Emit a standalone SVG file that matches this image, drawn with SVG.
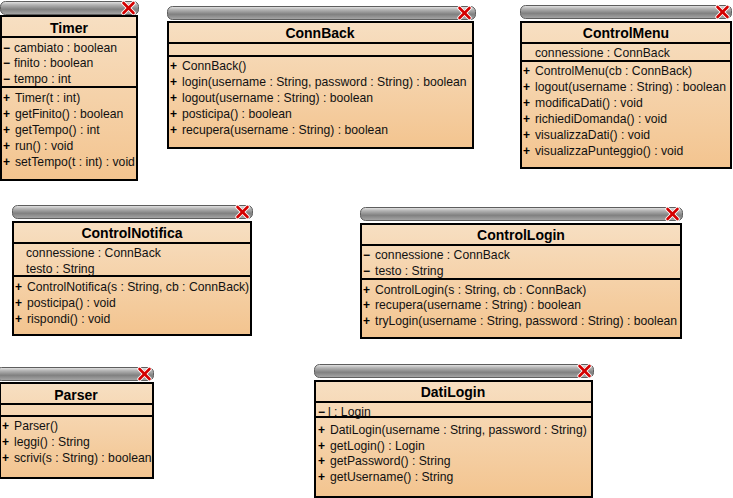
<svg xmlns="http://www.w3.org/2000/svg" width="733" height="498" viewBox="0 0 733 498">
<defs>
<linearGradient id="body" x1="0" y1="0" x2="0" y2="1">
<stop offset="0" stop-color="#f7dfc2"/>
<stop offset="1" stop-color="#f3c48f"/>
</linearGradient>
<linearGradient id="bar" x1="0" y1="0" x2="0" y2="1">
<stop offset="0" stop-color="#e8e8e8"/>
<stop offset="0.25" stop-color="#b4b4b4"/>
<stop offset="0.6" stop-color="#808080"/>
<stop offset="1" stop-color="#a8a8a8"/>
</linearGradient>
</defs>
<style>
.box{fill:url(#body);stroke:#000;stroke-width:2}
.sep{stroke:#000;stroke-width:2}
.bar{fill:url(#bar);stroke:#5e5e5e;stroke-width:1}
.xw{stroke:#ffffff;stroke-width:4.5;stroke-linecap:round}
.xr{stroke:#d40000;stroke-width:2.6;stroke-linecap:round}
text{font-family:"Liberation Sans",Arial,sans-serif;font-size:12.2px;fill:#111}
.t{font-size:14px;font-weight:bold;text-anchor:middle;fill:#000}
.v{font-weight:bold;font-size:12px;fill:#000}
</style>
<rect width="733" height="498" fill="#ffffff"/>
<g id="connectors"/>

<g id="Timer">
<rect class="bar" x="0.5" y="1.5" width="138" height="13" rx="5"/>
<line class="xw" x1="123.5" y1="3" x2="133.5" y2="13"/><line class="xw" x1="133.5" y1="3" x2="123.5" y2="13"/>
<line class="xr" x1="123.5" y1="3" x2="133.5" y2="13"/><line class="xr" x1="133.5" y1="3" x2="123.5" y2="13"/>
<rect class="box" x="1" y="16" width="136" height="164"/>
<line class="sep" x1="1" y1="37" x2="137" y2="37"/>
<line class="sep" x1="1" y1="87" x2="137" y2="87"/>
<text class="t" x="69" y="33">Timer</text>
<text class="v" x="3" y="52">−</text><text x="14" y="52">cambiato : boolean</text>
<text class="v" x="3" y="67">−</text><text x="14" y="67">finito : boolean</text>
<text class="v" x="3" y="83">−</text><text x="14" y="83">tempo : int</text>
<text class="v" x="3" y="102">+</text><text x="15" y="102">Timer(t : int)</text>
<text class="v" x="3" y="118">+</text><text x="15" y="118">getFinito() : boolean</text>
<text class="v" x="3" y="134">+</text><text x="15" y="134">getTempo() : int</text>
<text class="v" x="3" y="150">+</text><text x="15" y="150">run() : void</text>
<text class="v" x="3" y="166">+</text><text x="15" y="166">setTempo(t : int) : void</text>
</g>

<g id="ConnBack">
<rect class="bar" x="167.5" y="6.5" width="308" height="13" rx="5"/>
<line class="xw" x1="459.5" y1="8" x2="469.5" y2="18"/><line class="xw" x1="469.5" y1="8" x2="459.5" y2="18"/>
<line class="xr" x1="459.5" y1="8" x2="469.5" y2="18"/><line class="xr" x1="469.5" y1="8" x2="459.5" y2="18"/>
<rect class="box" x="168" y="22" width="305" height="126"/>
<line class="sep" x1="168" y1="43" x2="473" y2="43"/>
<line class="sep" x1="168" y1="56" x2="473" y2="56"/>
<text class="t" x="320" y="38">ConnBack</text>
<text class="v" x="170" y="70">+</text><text x="182" y="70">ConnBack()</text>
<text class="v" x="170" y="86">+</text><text x="182" y="86">login(username : String, password : String) : boolean</text>
<text class="v" x="170" y="102">+</text><text x="182" y="102">logout(username : String) : boolean</text>
<text class="v" x="170" y="118">+</text><text x="182" y="118">posticipa() : boolean</text>
<text class="v" x="170" y="134">+</text><text x="182" y="134">recupera(username : String) : boolean</text>
</g>

<g id="ControlMenu">
<rect class="bar" x="520.5" y="5.5" width="211" height="13" rx="5"/>
<line class="xw" x1="717.5" y1="7" x2="727.5" y2="17"/><line class="xw" x1="727.5" y1="7" x2="717.5" y2="17"/>
<line class="xr" x1="717.5" y1="7" x2="727.5" y2="17"/><line class="xr" x1="727.5" y1="7" x2="717.5" y2="17"/>
<rect class="box" x="521" y="22" width="210" height="146"/>
<line class="sep" x1="521" y1="43" x2="731" y2="43"/>
<line class="sep" x1="521" y1="61" x2="731" y2="61"/>
<text class="t" x="626" y="38">ControlMenu</text>
<text x="535" y="57">connessione : ConnBack</text>
<text class="v" x="523" y="75">+</text><text x="535" y="75">ControlMenu(cb : ConnBack)</text>
<text class="v" x="523" y="91">+</text><text x="535" y="91">logout(username : String) : boolean</text>
<text class="v" x="523" y="107">+</text><text x="535" y="107">modificaDati() : void</text>
<text class="v" x="523" y="123">+</text><text x="535" y="123">richiediDomanda() : void</text>
<text class="v" x="523" y="139">+</text><text x="535" y="139">visualizzaDati() : void</text>
<text class="v" x="523" y="155">+</text><text x="535" y="155">visualizzaPunteggio() : void</text>
</g>

<g id="ControlNotifica">
<rect class="bar" x="12.5" y="205.5" width="240" height="13" rx="5"/>
<line class="xw" x1="237.5" y1="207" x2="247.5" y2="217"/><line class="xw" x1="247.5" y1="207" x2="237.5" y2="217"/>
<line class="xr" x1="237.5" y1="207" x2="247.5" y2="217"/><line class="xr" x1="247.5" y1="207" x2="237.5" y2="217"/>
<rect class="box" x="13" y="222" width="238" height="113"/>
<line class="sep" x1="13" y1="243" x2="251" y2="243"/>
<line class="sep" x1="13" y1="276" x2="251" y2="276"/>
<text class="t" x="132" y="238">ControlNotifica</text>
<text x="26" y="257">connessione : ConnBack</text>
<text x="26" y="273">testo : String</text>
<text class="v" x="15" y="291">+</text><text x="27" y="291">ControlNotifica(s : String, cb : ConnBack)</text>
<text class="v" x="15" y="307">+</text><text x="27" y="307">posticipa() : void</text>
<text class="v" x="15" y="323">+</text><text x="27" y="323">rispondi() : void</text>
</g>

<g id="ControlLogin">
<rect class="bar" x="360.5" y="207.5" width="322" height="13" rx="5"/>
<line class="xw" x1="667.5" y1="209" x2="677.5" y2="219"/><line class="xw" x1="677.5" y1="209" x2="667.5" y2="219"/>
<line class="xr" x1="667.5" y1="209" x2="677.5" y2="219"/><line class="xr" x1="677.5" y1="209" x2="667.5" y2="219"/>
<rect class="box" x="361" y="224" width="320" height="114"/>
<line class="sep" x1="361" y1="245" x2="681" y2="245"/>
<line class="sep" x1="361" y1="279" x2="681" y2="279"/>
<text class="t" x="521" y="240">ControlLogin</text>
<text class="v" x="363" y="259">−</text><text x="375" y="259">connessione : ConnBack</text>
<text class="v" x="363" y="275">−</text><text x="375" y="275">testo : String</text>
<text class="v" x="363" y="294">+</text><text x="375" y="294">ControlLogin(s : String, cb : ConnBack)</text>
<text class="v" x="363" y="309">+</text><text x="375" y="309">recupera(username : String) : boolean</text>
<text class="v" x="363" y="325">+</text><text x="375" y="325">tryLogin(username : String, password : String) : boolean</text>
</g>

<g id="Parser">
<rect class="bar" x="-3.5" y="367.5" width="157" height="13" rx="5"/>
<line class="xw" x1="139.5" y1="369" x2="149.5" y2="379"/><line class="xw" x1="149.5" y1="369" x2="139.5" y2="379"/>
<line class="xr" x1="139.5" y1="369" x2="149.5" y2="379"/><line class="xr" x1="149.5" y1="369" x2="139.5" y2="379"/>
<rect class="box" x="0" y="383" width="153" height="95"/>
<line class="sep" x1="0" y1="404" x2="153" y2="404"/>
<line class="sep" x1="0" y1="416" x2="153" y2="416"/>
<text class="t" x="76" y="400">Parser</text>
<text class="v" x="2" y="430">+</text><text x="14" y="430">Parser()</text>
<text class="v" x="2" y="446">+</text><text x="14" y="446">leggi() : String</text>
<text class="v" x="2" y="462">+</text><text x="14" y="462">scrivi(s : String) : boolean</text>
</g>

<g id="DatiLogin">
<rect class="bar" x="314.5" y="364.5" width="279" height="13" rx="5"/>
<line class="xw" x1="579.5" y1="366" x2="589.5" y2="376"/><line class="xw" x1="589.5" y1="366" x2="579.5" y2="376"/>
<line class="xr" x1="579.5" y1="366" x2="589.5" y2="376"/><line class="xr" x1="589.5" y1="366" x2="579.5" y2="376"/>
<rect class="box" x="315" y="381" width="277" height="116"/>
<line class="sep" x1="315" y1="402" x2="592" y2="402"/>
<line class="sep" x1="315" y1="417" x2="592" y2="417"/>
<text class="t" x="453" y="397">DatiLogin</text>
<text class="v" x="318" y="416">−</text><text x="328" y="416">l : Login</text>
<text class="v" x="318" y="434">+</text><text x="330" y="434">DatiLogin(username : String, password : String)</text>
<text class="v" x="318" y="450">+</text><text x="330" y="450">getLogin() : Login</text>
<text class="v" x="318" y="465">+</text><text x="330" y="465">getPassword() : String</text>
<text class="v" x="318" y="481">+</text><text x="330" y="481">getUsername() : String</text>
</g>
</svg>
